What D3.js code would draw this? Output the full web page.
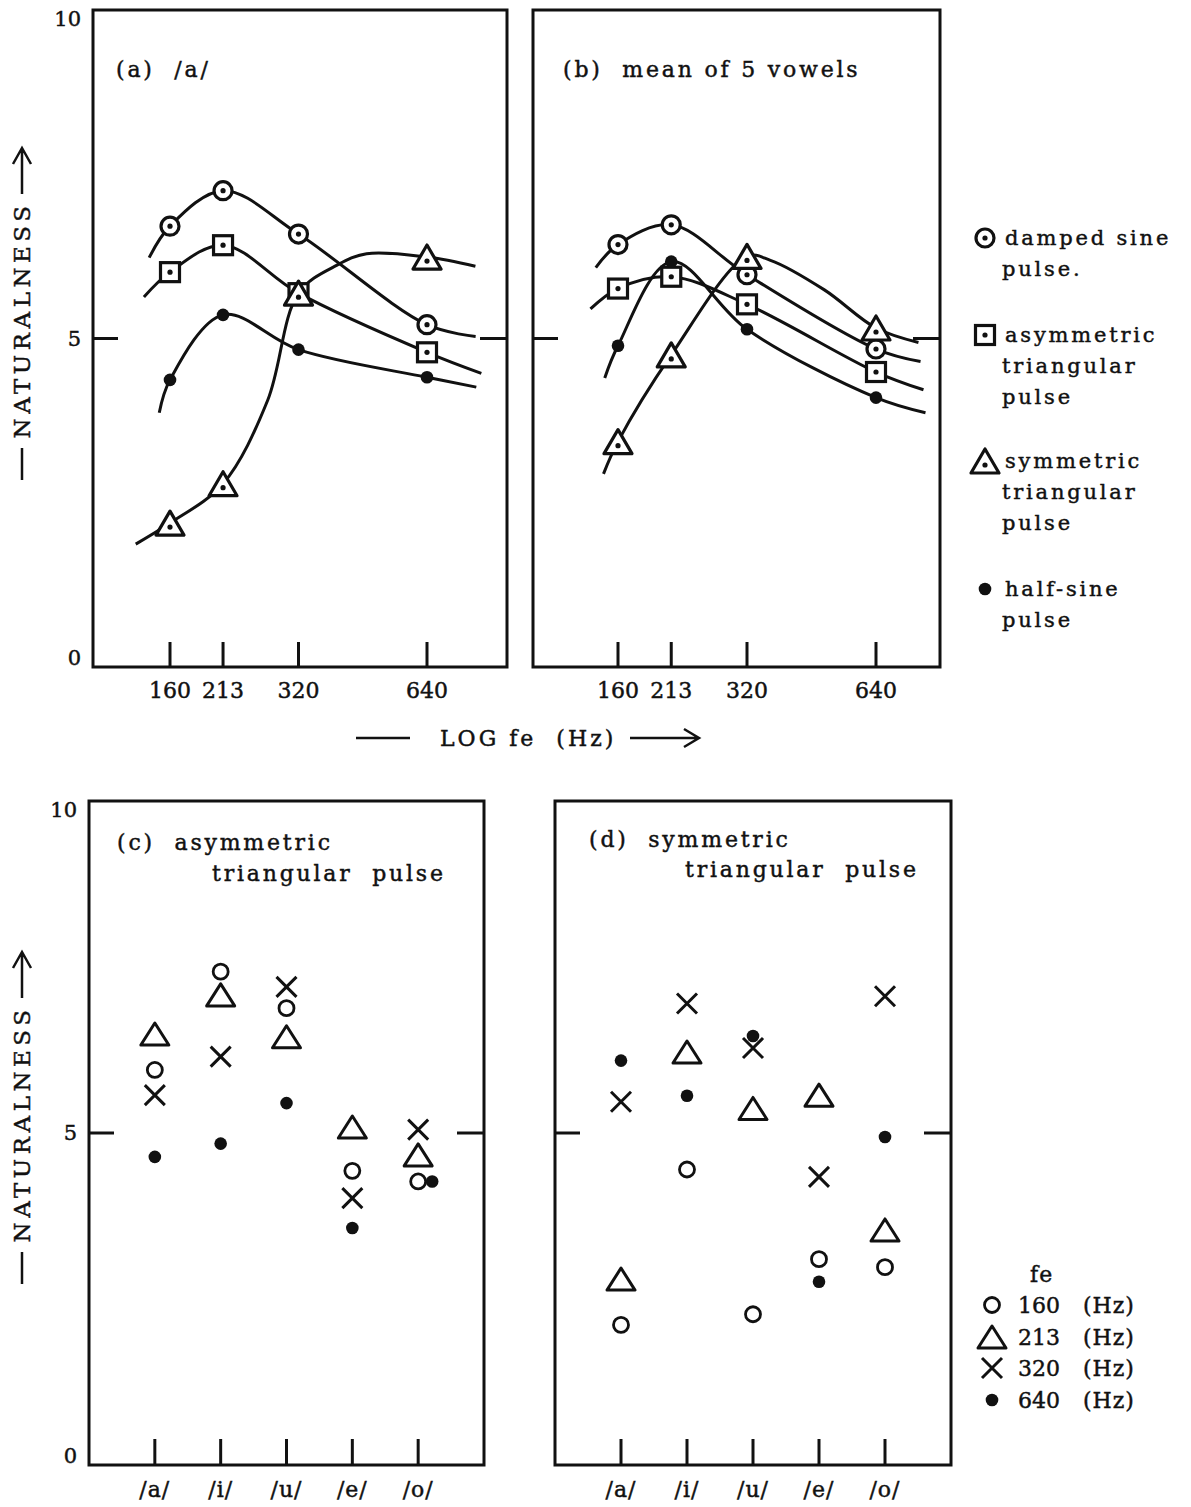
<!DOCTYPE html>
<html>
<head>
<meta charset="utf-8">
<script src="https://cdn.jsdelivr.net/npm/d3@7/dist/d3.min.js"></script>
<style>
  body { margin: 0; background: #fff; }
  text { font-family: "DejaVu Serif", serif; fill: #111; stroke: #111; stroke-width: 0.45px; }
</style>
</head>
<body>
<div id="chart"></div>
<script>
const width = 1191, height = 1507;

const freqs = [160, 213, 320, 640];
const vowels = ["/a/", "/i/", "/u/", "/e/", "/o/"];
const yTicks = [0, 5, 10];
const pulseLabels = [["damped sine", "pulse."], ["asymmetric", "triangular", "pulse"],
                     ["symmetric", "triangular", "pulse"], ["half-sine", "pulse"]];
const feLabels = ["160", "213", "320", "640"];

// (a) /a/ : naturalness at each fe
const aDamped = [6.71, 7.25, 6.59, 5.21];
const aAsym   = [6.01, 6.42, 5.69, 4.79];
const aSym    = [2.19, 2.79, 5.69, 6.24];
const aHalf   = [4.37, 5.36, 4.83, 4.41];
// extra points of the hand drawn curves, [Hz, naturalness]
const aDampedTrace = [[143, 6.23], [832, 5.03]];
const aAsymTrace   = [[139, 5.63], [858, 4.47]];
const aSymTrace    = [[133, 1.87], [271, 4.06], [395, 6.12], [462, 6.29], [831, 6.10]];
const aHalfTrace   = [[151, 3.87], [835, 4.26]];

// (b) mean of 5 vowels
const bDamped = [6.43, 6.73, 5.97, 4.84];
const bAsym   = [5.76, 5.94, 5.52, 4.49];
const bSym    = [3.43, 4.75, 6.25, 5.16];
const bHalf   = [4.89, 6.17, 5.14, 4.10];
const bDampedTrace = [[142, 6.08], [813, 4.65]];
const bAsymTrace   = [[138, 5.45], [826, 4.22]];
const bSymTrace    = [[148, 2.94], [363, 6.19], [485, 5.74], [804, 4.94]];
const bHalfTrace   = [[149, 4.40], [835, 3.87]];

// (c) asymmetric triangular pulse, per vowel
const c160 = [5.95, 7.43, 6.88, 4.43, 4.27];
const c213 = [6.49, 7.08, 6.45, 5.09, 4.67];
const c320 = [5.57, 6.15, 7.20, 4.02, 5.05];
const c640 = [4.64, 4.84, 5.45, 3.57, 4.27];

// (d) symmetric triangular pulse, per vowel
const d160 = [2.11, 4.45, 2.27, 3.10, 2.98];
const d213 = [2.80, 6.22, 5.37, 5.57, 3.54];
const d320 = [5.47, 6.95, 6.28, 4.34, 7.06];
const d640 = [6.09, 5.56, 6.46, 2.76, 4.94];

const ink = "#111";
const svg = d3.select("#chart").append("svg")
    .attr("width", width).attr("height", height);

const yTop = d3.scaleLinear().domain([0, 10]).range([667, 10]);
const yBot = d3.scaleLinear().domain([0, 10]).range([1465, 801]);

// Panel frame with the short ticks at 5 on both sides
function frame(x0, x1, y, withLabels) {
    const [yb, yt] = y.range();
    svg.append("rect")
        .attr("x", x0).attr("y", yt).attr("width", x1 - x0).attr("height", yb - yt)
        .attr("fill", "none").attr("stroke", ink).attr("stroke-width", 3);
    svg.append("line").attr("x1", x0).attr("x2", x0 + 25).attr("y1", y(5)).attr("y2", y(5))
        .attr("stroke", ink).attr("stroke-width", 3);
    svg.append("line").attr("x1", x1 - 27).attr("x2", x1).attr("y1", y(5)).attr("y2", y(5))
        .attr("stroke", ink).attr("stroke-width", 3);
    if (withLabels) {
        svg.selectAll(null).data(yTicks).enter().append("text")
            .attr("x", x0 - 12)
            .attr("y", d => Math.min(Math.max(y(d), yt + 9), yb - 9))
            .attr("dy", "0.35em")
            .attr("text-anchor", "end")
            .style("font-size", "21px")
            .text(d => d);
    }
}

// y title: dash, NATURALNESS, arrow (rotated)
function yTitle(cy) {
    const x = 22;
    svg.append("text")
        .attr("transform", `translate(${x + 8},${cy}) rotate(-90)`)
        .attr("text-anchor", "middle")
        .style("font-size", "23px")
        .style("letter-spacing", "4.5px")
        .text("NATURALNESS");
    svg.append("line").attr("x1", x).attr("x2", x).attr("y1", cy + 128).attr("y2", cy + 160)
        .attr("stroke", ink).attr("stroke-width", 2.5);
    svg.append("path")
        .attr("d", `M${x},${cy - 126}V${cy - 172}M${x - 9},${cy - 156}L${x},${cy - 172}L${x + 9},${cy - 156}`)
        .attr("fill", "none").attr("stroke", ink).attr("stroke-width", 2.5);
}

function triPath(w, h) {
    return `M0,${-h / 2}L${w / 2},${h / 2}L${-w / 2},${h / 2}Z`;
}

// markers
function marker(g, type, x, y) {
    const m = g.append("g").attr("transform", `translate(${x},${y})`);
    const dot = (dy) => m.append("circle").attr("cy", dy || 0).attr("r", 2.6).attr("fill", ink);
    if (type === "circleDot") {
        m.append("circle").attr("r", 9).attr("fill", "#fff").attr("stroke", ink).attr("stroke-width", 3.2);
        dot();
    } else if (type === "squareDot") {
        m.append("rect").attr("x", -9.5).attr("y", -9.5).attr("width", 19).attr("height", 19)
            .attr("fill", "#fff").attr("stroke", ink).attr("stroke-width", 3.2);
        dot();
    } else if (type === "triDot") {
        m.append("path").attr("d", triPath(28, 24))
            .attr("fill", "#fff").attr("stroke", ink).attr("stroke-width", 3.2).attr("stroke-linejoin", "round");
        dot(4);
    } else if (type === "dot") {
        m.append("circle").attr("r", 6.3).attr("fill", ink);
    } else if (type === "circle") {
        m.append("circle").attr("r", 7.5).attr("fill", "none").attr("stroke", ink).attr("stroke-width", 2.8);
    } else if (type === "tri") {
        m.append("path").attr("d", triPath(28, 22))
            .attr("fill", "none").attr("stroke", ink).attr("stroke-width", 3).attr("stroke-linejoin", "round");
    } else if (type === "cross") {
        m.append("path").attr("d", "M-10,-10L10,10M-10,10L10,-10")
            .attr("fill", "none").attr("stroke", ink).attr("stroke-width", 3);
    }
}

// ---------- top panels ----------
const topPanels = [
    { x0: 93, x1: 507, x160: 170, x640: 427, title: "(a)  /a/", tx: 116,
      series: [[aDamped, aDampedTrace], [aAsym, aAsymTrace], [aSym, aSymTrace], [aHalf, aHalfTrace]] },
    { x0: 533, x1: 940, x160: 618, x640: 876, title: "(b)  mean of 5 vowels", tx: 563,
      series: [[bDamped, bDampedTrace], [bAsym, bAsymTrace], [bSym, bSymTrace], [bHalf, bHalfTrace]] }
];
const topTypes = ["circleDot", "squareDot", "triDot", "dot"];

topPanels.forEach((p, pi) => {
    frame(p.x0, p.x1, yTop, pi === 0);
    const x = d3.scaleLog().domain([160, 640]).range([p.x160, p.x640]);

    svg.selectAll(null).data(freqs).enter().append("line")
        .attr("x1", d => x(d)).attr("x2", d => x(d))
        .attr("y1", yTop(0)).attr("y2", yTop(0) - 25)
        .attr("stroke", ink).attr("stroke-width", 3);
    svg.selectAll(null).data(freqs).enter().append("text")
        .attr("x", d => x(d)).attr("y", 698)
        .attr("text-anchor", "middle")
        .style("font-size", "22px")
        .text(d => d);

    svg.append("text").attr("x", p.tx).attr("y", 77)
        .style("font-size", "22px").style("letter-spacing", "2.8px")
        .style("white-space", "pre")
        .text(p.title);

    const line = d3.line()
        .x(d => x(d[0])).y(d => yTop(d[1]))
        .curve(d3.curveCatmullRom.alpha(0.5));

    p.series.forEach(([vals, trace]) => {
        const pts = freqs.map((f, i) => [f, vals[i]]).concat(trace).sort((a, b) => a[0] - b[0]);
        svg.append("path").attr("d", line(pts))
            .attr("fill", "none").attr("stroke", ink).attr("stroke-width", 3);
    });
    const g = svg.append("g");
    p.series.forEach(([vals], si) => {
        vals.forEach((v, i) => marker(g, topTypes[si], x(freqs[i]), yTop(v)));
    });
});

yTitle(320);

// x title
svg.append("line").attr("x1", 356).attr("x2", 410).attr("y1", 738).attr("y2", 738)
    .attr("stroke", ink).attr("stroke-width", 2.5);
svg.append("text").attr("x", 440).attr("y", 746)
    .style("font-size", "22px").style("letter-spacing", "3px").style("white-space", "pre")
    .text("LOG fe  (Hz)");
svg.append("path")
    .attr("d", "M630,738H698M684,729L699,738L684,747")
    .attr("fill", "none").attr("stroke", ink).attr("stroke-width", 2.5);

// top legend
const legendRowsY = [238, 335, 461, 589];
pulseLabels.forEach((lines, i) => {
    marker(svg, topTypes[i], 985, legendRowsY[i]);
    lines.forEach((t, j) => {
        svg.append("text")
            .attr("x", j === 0 ? 1005 : 1002)
            .attr("y", legendRowsY[i] + j * 31)
            .attr("dy", "0.35em")
            .style("font-size", "21px").style("letter-spacing", "2.8px")
            .text(t);
    });
});

// ---------- bottom panels ----------
const botPanels = [
    { x0: 89, x1: 484, title: ["(c)  asymmetric", "triangular  pulse"], tx: [117, 212], ty: [850, 881],
      series: [c160, c213, c320, c640] },
    { x0: 555, x1: 951, title: ["(d)  symmetric", "triangular  pulse"], tx: [589, 685], ty: [847, 877],
      series: [d160, d213, d320, d640] }
];
const botTypes = ["circle", "tri", "cross", "dot"];

botPanels.forEach((p, pi) => {
    frame(p.x0, p.x1, yBot, pi === 0);
    const x = d3.scalePoint().domain(vowels).range([p.x0, p.x1]).padding(1);

    svg.selectAll(null).data(vowels).enter().append("line")
        .attr("x1", d => x(d)).attr("x2", d => x(d))
        .attr("y1", yBot(0)).attr("y2", yBot(0) - 26)
        .attr("stroke", ink).attr("stroke-width", 3);
    svg.selectAll(null).data(vowels).enter().append("text")
        .attr("x", d => x(d)).attr("y", 1497)
        .attr("text-anchor", "middle")
        .style("font-size", "22px").style("letter-spacing", "1px")
        .text(d => d);

    p.title.forEach((t, j) => {
        svg.append("text").attr("x", p.tx[j]).attr("y", p.ty[j])
            .style("font-size", "22px").style("letter-spacing", "2.8px")
            .style("white-space", "pre")
            .text(t);
    });

    const g = svg.append("g");
    p.series.forEach((vals, si) => {
        vals.forEach((v, i) => {
            let cx = x(vowels[i]);
            // a 640 Hz dot that coincides with the 160 Hz circle is set beside it
            if (si === 3 && Math.abs(v - p.series[0][i]) < 0.1) cx += 14;
            marker(g, botTypes[si], cx, yBot(v));
        });
    });
});

yTitle(1124);

// bottom legend
svg.append("text").attr("x", 1030).attr("y", 1282)
    .style("font-size", "22px").style("letter-spacing", "1px").text("fe");
const feRowsY = [1305, 1337, 1368, 1400];
feLabels.forEach((t, i) => {
    marker(svg, botTypes[i], 992, feRowsY[i]);
    svg.append("text").attr("x", 1018).attr("y", feRowsY[i]).attr("dy", "0.35em")
        .style("font-size", "22px").text(t);
    svg.append("text").attr("x", 1083).attr("y", feRowsY[i]).attr("dy", "0.35em")
        .style("font-size", "22px").style("letter-spacing", "1px").text("(Hz)");
});
</script>
</body>
</html>
